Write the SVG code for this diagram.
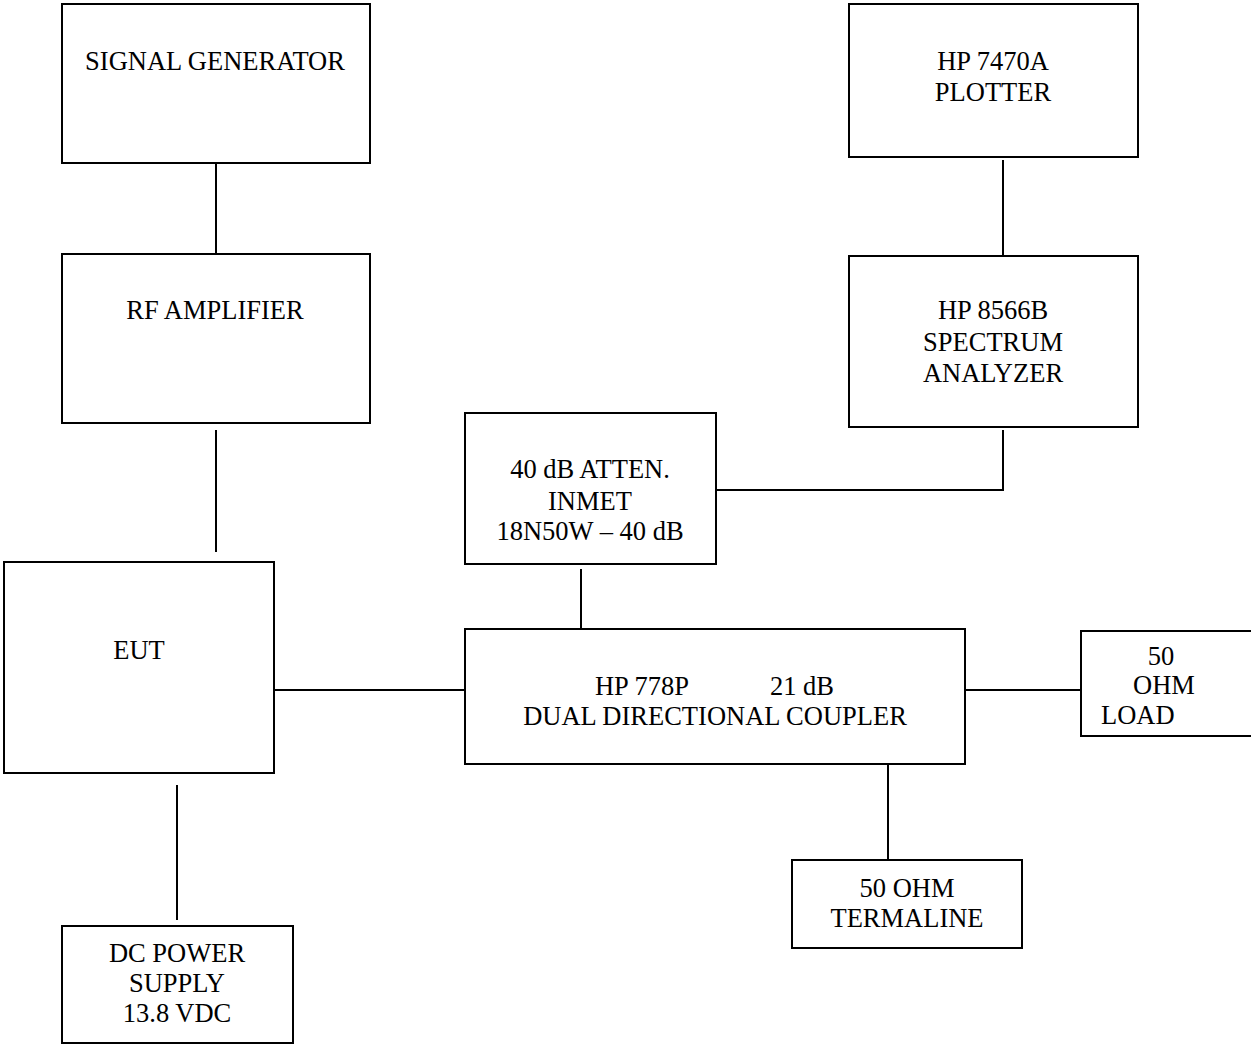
<svg xmlns="http://www.w3.org/2000/svg" width="1251" height="1044" viewBox="0 0 1251 1044">
<style>
rect.box{fill:#fff;stroke:#000;stroke-width:2}
#connectors line,#connectors polyline{stroke:#000;stroke-width:2;fill:none}
text{font-family:"Liberation Serif","Times New Roman",serif;font-size:26.5px;fill:#000;text-anchor:middle}
</style>
<rect width="1251" height="1044" fill="#fff"/>
<g id="connectors">
<line x1="216" y1="163" x2="216" y2="254"/>
<line x1="216" y1="430" x2="216" y2="552"/>
<line x1="274" y1="690" x2="465" y2="690"/>
<line x1="177" y1="785" x2="177" y2="920"/>
<line x1="581" y1="569" x2="581" y2="629"/>
<polyline points="716,490 1003,490 1003,430"/>
<line x1="1003" y1="160" x2="1003" y2="256"/>
<line x1="965" y1="690" x2="1081" y2="690"/>
<line x1="888" y1="764" x2="888" y2="859"/>
</g>
<g id="signal-generator">
<rect class="box" x="62" y="4" width="308" height="159"/>
<text x="215" y="70">SIGNAL GENERATOR</text>
</g>
<g id="rf-amplifier">
<rect class="box" x="62" y="254" width="308" height="169"/>
<text x="215" y="319">RF AMPLIFIER</text>
</g>
<g id="eut">
<rect class="box" x="4" y="562" width="270" height="211"/>
<text x="139" y="659">EUT</text>
</g>
<g id="dc-power-supply">
<rect class="box" x="62" y="926" width="231" height="117"/>
<text x="177" y="962">DC POWER</text>
<text x="177" y="992">SUPPLY</text>
<text x="177" y="1022">13.8 VDC</text>
</g>
<g id="attenuator">
<rect class="box" x="465" y="413" width="251" height="151"/>
<text x="590" y="478">40 dB ATTEN.</text>
<text x="590" y="510">INMET</text>
<text x="590" y="540">18N50W – 40 dB</text>
</g>
<g id="coupler">
<rect class="box" x="465" y="629" width="500" height="135"/>
<text x="642" y="695">HP 778P</text>
<text x="802" y="695">21 dB</text>
<text x="715" y="725">DUAL DIRECTIONAL COUPLER</text>
</g>
<g id="load">
<rect class="box" x="1081" y="631" width="180" height="105"/>
<text x="1161" y="665">50</text>
<text x="1164" y="694">OHM</text>
<text x="1101" y="724" style="text-anchor:start">LOAD</text>
</g>
<g id="termaline">
<rect class="box" x="792" y="860" width="230" height="88"/>
<text x="907" y="897">50 OHM</text>
<text x="907" y="927">TERMALINE</text>
</g>
<g id="plotter">
<rect class="box" x="849" y="4" width="289" height="153"/>
<text x="993" y="70">HP 7470A</text>
<text x="993" y="101">PLOTTER</text>
</g>
<g id="spectrum-analyzer">
<rect class="box" x="849" y="256" width="289" height="171"/>
<text x="993" y="319">HP 8566B</text>
<text x="993" y="351">SPECTRUM</text>
<text x="993" y="382">ANALYZER</text>
</g>
</svg>
